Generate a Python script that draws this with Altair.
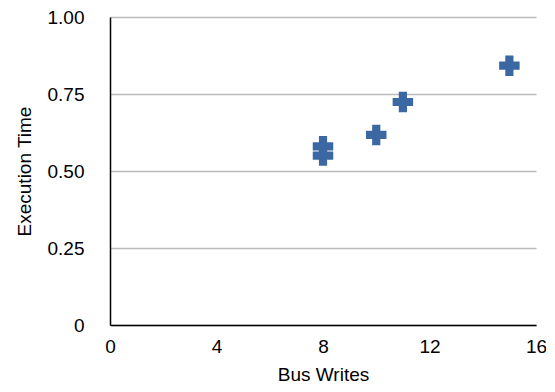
import altair as alt
import pandas as pd

bus_writes = [8, 8, 10, 11, 15]
exec_time = [0.58, 0.55, 0.617, 0.724, 0.842]
x_ticks = [0, 4, 8, 12, 16]
y_ticks = [0, 0.25, 0.5, 0.75, 1.0]

df = pd.DataFrame({"Bus Writes": bus_writes, "Execution Time": exec_time})

font = "Liberation Sans"
fs = 19

chart = alt.Chart(df).mark_point(
    shape="cross", filled=True, size=420, color="#3B68A2", opacity=1
).encode(
    x=alt.X("Bus Writes:Q",
            scale=alt.Scale(domain=[0, 16], nice=False, zero=True),
            axis=alt.Axis(values=x_ticks, title="Bus Writes", grid=False, ticks=False,
                          domainColor="#000000", domainWidth=1.5,
                          labelFont=font, labelFontSize=fs, labelColor="#000000",
                          labelPadding=12, titleFont=font, titleFontSize=fs,
                          titleFontWeight="normal", titleColor="#000000", titlePadding=9,
                          labelFlush=False)),
    y=alt.Y("Execution Time:Q",
            scale=alt.Scale(domain=[0, 1], nice=False),
            axis=alt.Axis(values=y_ticks, title="Execution Time", grid=True, ticks=False,
                          gridColor="#BBBBBB", gridWidth=1.5,
                          domainColor="#000000", domainWidth=1.5,
                          labelExpr="datum.value == 0 ? '0' : format(datum.value, '.2f')",
                          labelFont=font, labelFontSize=fs, labelColor="#000000",
                          labelPadding=26, titleFont=font, titleFontSize=fs,
                          titleFontWeight="normal", titleColor="#000000", titlePadding=13,
                          labelFlush=False)),
).properties(
    width=426, height=308,
    autosize=alt.AutoSizeParams(type="none"),
    padding={"left": 102, "top": 9, "right": 10, "bottom": 59},
).configure_view(stroke=None)

chart.save("out.html", embed_options={"renderer": "svg", "actions": False})
